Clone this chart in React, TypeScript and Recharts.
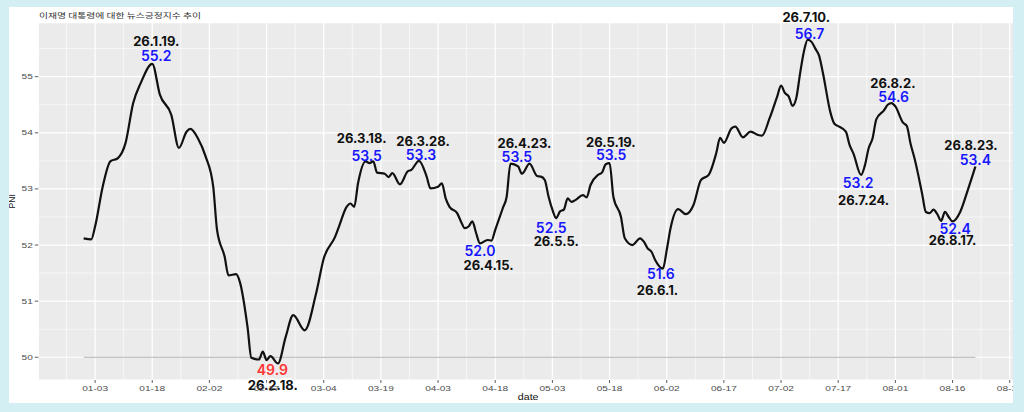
import React from 'react';
import { LineChart, Line, XAxis, YAxis, CartesianGrid, ReferenceLine, ReferenceDot, Label } from 'recharts';

// daily PNI readings (gaps where the curve was read every other day)
const dates = [
  '2025-12-31', '2026-01-02', '2026-01-03', '2026-01-05', '2026-01-07', '2026-01-09', '2026-01-11', '2026-01-13',
  '2026-01-15', '2026-01-18', '2026-01-20', '2026-01-23', '2026-01-25', '2026-01-27', '2026-01-28', '2026-01-30',
  '2026-02-01', '2026-02-03', '2026-02-04', '2026-02-06', '2026-02-07', '2026-02-09', '2026-02-10', '2026-02-12',
  '2026-02-13', '2026-02-15', '2026-02-16', '2026-02-17', '2026-02-18', '2026-02-20', '2026-02-22', '2026-02-24',
  '2026-02-27', '2026-03-02', '2026-03-04', '2026-03-07', '2026-03-08', '2026-03-10', '2026-03-11', '2026-03-12',
  '2026-03-13', '2026-03-15', '2026-03-16', '2026-03-17', '2026-03-18', '2026-03-20', '2026-03-21', '2026-03-22',
  '2026-03-24', '2026-03-26', '2026-03-27', '2026-03-29', '2026-03-31', '2026-04-01', '2026-04-03', '2026-04-04',
  '2026-04-05', '2026-04-06', '2026-04-08', '2026-04-09', '2026-04-10', '2026-04-11', '2026-04-12', '2026-04-13',
  '2026-04-14', '2026-04-16', '2026-04-17', '2026-04-18', '2026-04-20', '2026-04-21', '2026-04-22', '2026-04-24',
  '2026-04-25', '2026-04-27', '2026-04-29', '2026-04-30', '2026-05-01', '2026-05-02', '2026-05-03', '2026-05-04',
  '2026-05-05', '2026-05-06', '2026-05-07', '2026-05-08', '2026-05-09', '2026-05-11', '2026-05-12', '2026-05-13',
  '2026-05-15', '2026-05-16', '2026-05-17', '2026-05-18', '2026-05-19', '2026-05-21', '2026-05-22', '2026-05-24',
  '2026-05-26', '2026-05-27', '2026-05-28', '2026-05-29', '2026-05-30', '2026-06-01', '2026-06-02', '2026-06-03',
  '2026-06-05', '2026-06-07', '2026-06-09', '2026-06-11', '2026-06-13', '2026-06-15', '2026-06-16', '2026-06-17',
  '2026-06-19', '2026-06-20', '2026-06-22', '2026-06-24', '2026-06-26', '2026-06-27', '2026-06-29', '2026-07-01',
  '2026-07-02', '2026-07-03', '2026-07-04', '2026-07-05', '2026-07-06', '2026-07-07', '2026-07-08', '2026-07-09',
  '2026-07-10', '2026-07-11', '2026-07-12', '2026-07-13', '2026-07-15', '2026-07-16', '2026-07-17', '2026-07-19',
  '2026-07-20', '2026-07-21', '2026-07-23', '2026-07-24', '2026-07-25', '2026-07-26', '2026-07-27', '2026-07-29',
  '2026-07-30', '2026-07-31', '2026-08-01', '2026-08-03', '2026-08-04', '2026-08-05', '2026-08-06', '2026-08-07',
  '2026-08-08', '2026-08-09', '2026-08-10', '2026-08-11', '2026-08-12', '2026-08-13', '2026-08-14', '2026-08-15',
  '2026-08-16', '2026-08-18', '2026-08-20', '2026-08-22',
];

const pni = [
  52.12, 52.10, 52.33, 53.04, 53.49, 53.55, 53.82, 54.53,
  54.89, 55.23, 54.68, 54.32, 53.73, 54.02, 54.07, 53.90,
  53.58, 53.04, 52.27, 51.79, 51.46, 51.48, 51.34, 50.54,
  49.99, 49.96, 50.10, 49.95, 50.02, 49.89, 50.36, 50.75,
  50.48, 51.14, 51.76, 52.15, 52.33, 52.68, 52.74, 52.68,
  53.10, 53.49, 53.46, 53.49, 53.29, 53.27, 53.21, 53.28,
  53.08, 53.31, 53.34, 53.50, 53.22, 53.01, 53.04, 53.10,
  52.83, 52.68, 52.57, 52.42, 52.30, 52.33, 52.42, 52.21,
  52.03, 52.09, 52.08, 52.27, 52.66, 52.86, 53.45, 53.40,
  53.27, 53.45, 53.23, 53.22, 53.16, 52.86, 52.63, 52.48,
  52.60, 52.63, 52.83, 52.77, 52.80, 52.89, 52.85, 53.07,
  53.25, 53.29, 53.44, 53.46, 52.86, 52.50, 52.12, 52.00,
  52.12, 52.06, 51.94, 51.88, 51.73, 51.58, 51.91, 52.30,
  52.64, 52.55, 52.71, 53.16, 53.25, 53.64, 53.91, 53.82,
  54.08, 54.11, 53.92, 54.02, 53.96, 53.95, 54.26, 54.65,
  54.84, 54.71, 54.65, 54.48, 54.62, 55.06, 55.45, 55.66,
  55.62, 55.50, 55.37, 55.06, 54.35, 54.16, 54.12, 54.02,
  53.78, 53.63, 53.25, 53.42, 53.73, 53.90, 54.24, 54.40,
  54.50, 54.53, 54.47, 54.18, 54.12, 53.80, 53.55, 53.25,
  52.92, 52.59, 52.57, 52.63, 52.55, 52.43, 52.59, 52.50,
  52.42, 52.59, 52.98, 53.40,
];

const xTickLabels = [
  '01-03', '01-18', '02-02', '02-17', '03-04', '03-19', '04-03', '04-18', '05-03',
  '05-18', '06-02', '06-17', '07-02', '07-17', '08-01', '08-16', '08-31',
];
const yTicks = [50, 51, 52, 53, 54, 55];
const baseline = 50;

// annotated peaks / troughs
const noteDates = [
  '2026-01-18', '2026-03-15', '2026-03-29', '2026-04-14', '2026-04-22', '2026-05-04', '2026-05-18',
  '2026-06-01', '2026-07-09', '2026-07-23', '2026-07-31', '2026-08-16', '2026-08-22', '2026-02-18',
];
const noteDateText = [
  '26.1.19.', '26.3.18.', '26.3.28.', '26.4.15.', '26.4.23.', '26.5.5.', '26.5.19.',
  '26.6.1.', '26.7.10.', '26.7.24.', '26.8.2.', '26.8.17.', '26.8.23.', '26.2.18.',
];
const noteValueText = [
  '55.2', '53.5', '53.3', '52.0', '53.5', '52.5', '53.5',
  '51.6', '56.7', '53.2', '54.6', '52.4', '53.4', '49.9',
];

const TITLE = '이재명 대통령에 대한 뉴스긍정지수 추이';

// label placement around each point: [date dx, date dy, value dx, value dy]
const nudges = [
  [4, -23, 4, -8], [-4, -23, 1, -6.4], [4, -20, 2, -6], [8.5, 21.6, 0, 7.3],
  [14, -20.4, 6.4, -7], [0, 23, -5, 9], [1.3, -21.4, 1.6, -8.8], [-5.4, 21.4, -2, 4.7],
  [-1.5, -23, 1.8, -6.4], [2.5, 25, -3, 7.8], [1.3, -20.4, 2, -6.4], [0, 18.5, 2.6, 7.2],
  [-4.5, -21.5, 0, -7.2], [2.4, 29, 2, 13],
];

const DAY = 86400000;
const EPOCH = Date.UTC(2026, 0, 1);
const dayOf = (iso: string) => {
  const [y, m, d] = iso.split('-').map(Number);
  return (Date.UTC(y, m - 1, d) - EPOCH) / DAY;
};
const fmtTick = (t: number) => {
  const d = new Date(EPOCH + t * DAY);
  return `${String(d.getUTCMonth() + 1).padStart(2, '0')}-${String(d.getUTCDate()).padStart(2, '0')}`;
};

const data = dates.map((d, i) => ({ t: dayOf(d), pni: pni[i] }));
const xTicks = xTickLabels.map((s) => dayOf('2026-' + s));
const X_DOMAIN = [-12.9, 244.7];
const Y_DOMAIN = [49.595, 55.962];

const mids = (ticks: number[], lo: number, hi: number) => {
  const step = ticks[1] - ticks[0];
  const out: number[] = [];
  for (let v = ticks[0] - step / 2; v <= ticks[ticks.length - 1] + step; v += step) {
    if (v > lo && v < hi) out.push(v);
  }
  return out;
};
const xMinor = mids(xTicks, X_DOMAIN[0], X_DOMAIN[1]);
const yMinor = mids(yTicks, Y_DOMAIN[0], Y_DOMAIN[1]);

const AXIS_FONT = "'Liberation Sans', Arial, sans-serif";
const NOTE_FONT = "Inter, 'Liberation Sans', sans-serif";

const XTick = ({ x, y, payload }: any) => (
  <g transform={`translate(${x},${y})`}>
    <text transform="scale(1.35,1)" textAnchor="middle" dominantBaseline="central" fontSize={7.5} fill="#4d4d4d" fontFamily={AXIS_FONT}>
      {fmtTick(payload.value)}
    </text>
  </g>
);

const YTick = ({ x, y, payload }: any) => (
  <g transform={`translate(${x},${y})`}>
    <text transform="scale(1.35,1)" textAnchor="end" dominantBaseline="central" fontSize={7.5} fill="#4d4d4d" fontFamily={AXIS_FONT}>
      {payload.value}
    </text>
  </g>
);

const Note = ({ cx, cy, i }: any) => {
  const [ddx, ddy, vdx, vdy] = nudges[i];
  const low = parseFloat(noteValueText[i]) < baseline;
  return (
    <g>
      <text
        x={cx + ddx} y={cy + ddy} textAnchor="middle" dominantBaseline="central"
        fontFamily={NOTE_FONT} fontWeight={650} fontSize={13} fill="#111"
        stroke={low ? '#fff' : 'none'} strokeWidth={low ? 4 : 0} paintOrder="stroke"
      >
        {noteDateText[i]}
      </text>
      <text
        x={cx + vdx} y={cy + vdy} textAnchor="middle" dominantBaseline="central"
        fontFamily={NOTE_FONT} fontWeight={600} fontSize={14} fill={low ? '#ff3535' : '#1717ff'}
      >
        {noteValueText[i]}
      </text>
    </g>
  );
};

export default function App() {
  return (
    <div style={{ position: 'fixed', left: 0, top: 0, width: 1024, height: 412, background: '#d3eff4' }}>
      <div style={{ position: 'absolute', left: 9, top: 7, width: 1004, height: 396, background: '#fff', overflow: 'hidden' }}>
        <div
          style={{
            position: 'absolute', left: 30, top: 3, height: 10, lineHeight: '10px', fontSize: 7,
            fontFamily: "'Noto Sans CJK KR', sans-serif", color: '#333', whiteSpace: 'nowrap',
            transform: 'scaleX(1.4)', transformOrigin: 'left center',
          }}
        >
          {TITLE}
        </div>
        <LineChart width={1011} height={396} data={data} margin={{ top: 15.7, right: 0, bottom: 0, left: 0 }}>
          <CartesianGrid fill="#ebebeb" fillOpacity={1} stroke="#fff" strokeWidth={1.2} />
          {xMinor.map((v) => (
            <ReferenceLine key={`xm${v}`} x={v} stroke="#fff" strokeWidth={0.6} />
          ))}
          {yMinor.map((v) => (
            <ReferenceLine key={`ym${v}`} y={v} stroke="#fff" strokeWidth={0.6} />
          ))}
          <XAxis
            type="number" dataKey="t" domain={X_DOMAIN} ticks={xTicks} interval={0} allowDataOverflow
            height={23} axisLine={false} tickLine={{ stroke: '#333', strokeWidth: 0.8 }} tickSize={3} tickMargin={5}
            tick={<XTick />}
          >
            <Label
              content={({ viewBox }: any) => (
                <g transform={`translate(${viewBox.x + viewBox.width / 2 - 1},${viewBox.y + 17})`}>
                  <text transform="scale(1.25,1)" textAnchor="middle" dominantBaseline="central" fontSize={8.5} fill="#111" fontFamily={AXIS_FONT}>
                    date
                  </text>
                </g>
              )}
            />
          </XAxis>
          <YAxis
            type="number" domain={Y_DOMAIN} ticks={yTicks} interval={0} allowDataOverflow
            width={29.3} axisLine={false} tickLine={{ stroke: '#333', strokeWidth: 0.8 }} tickSize={3.5} tickMargin={2}
            tick={<YTick />}
          >
            <Label
              content={({ viewBox }: any) => (
                <text
                  x={3.5} y={viewBox.y + viewBox.height / 2} textAnchor="middle" dominantBaseline="central"
                  transform={`rotate(-90, 3.5, ${viewBox.y + viewBox.height / 2})`}
                  fontSize={8.5} fill="#111" fontFamily={AXIS_FONT}
                >
                  PNI
                </text>
              )}
            />
          </YAxis>
          <ReferenceLine
            segment={[{ x: data[0].t, y: baseline }, { x: data[data.length - 1].t, y: baseline }]}
            stroke="#b3b3b3" strokeWidth={1}
          />
          <Line type="monotone" dataKey="pni" stroke="#111" strokeWidth={2.2} dot={false} isAnimationActive={false} />
          {noteDates.map((d, i) => (
            <ReferenceDot
              key={d} x={dayOf(d)} y={pni[dates.indexOf(d)]} r={0} ifOverflow="visible"
              shape={(p: any) => <Note cx={p.cx} cy={p.cy} i={i} />}
            />
          ))}
        </LineChart>
      </div>
    </div>
  );
}
